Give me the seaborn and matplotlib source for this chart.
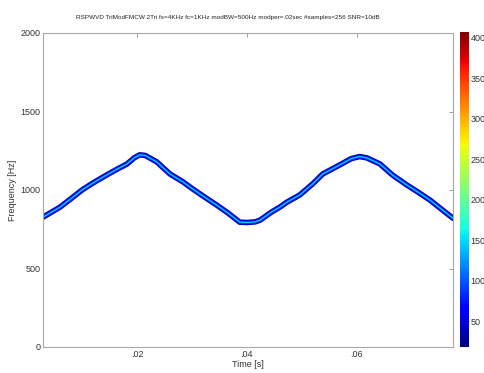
import numpy as np
import pandas as pd
import matplotlib
matplotlib.use("Agg")
import matplotlib.pyplot as plt
import seaborn as sns

# ridge of the time-frequency distribution
time_s = [0.0029, 0.0045, 0.0060, 0.0080, 0.0100, 0.0120, 0.0145, 0.0165, 0.0182,
          0.0195, 0.0205, 0.0215, 0.0236, 0.0260, 0.0284, 0.0300, 0.0315, 0.0345,
          0.0365, 0.0387, 0.0400, 0.0415, 0.0424, 0.0445, 0.0460, 0.0473, 0.0496,
          0.0520, 0.0538, 0.0569, 0.0590, 0.0605, 0.0618, 0.0642, 0.0665, 0.0691,
          0.0712, 0.0733, 0.0755, 0.0775]
freq_hz = [827, 860, 891, 945, 1000, 1045, 1096, 1135, 1166,
           1205, 1224, 1220, 1179, 1102, 1051, 1010, 974, 904,
           855, 795, 793, 797, 808, 860, 891, 923, 968,
           1040, 1102, 1160, 1200, 1213, 1205, 1166, 1095, 1032,
           985, 936, 875, 820]

# intensity levels of the ridge layers (edge, body, core)
edge_level = 35
body_level = 80
core_level = 150

cbar_min, cbar_max = 18, 407
cbar_ticks = [50, 100, 150, 200, 250, 300, 350, 400]
x_ticks = [0.02, 0.04, 0.06]
x_ticklabels = ['.02', '.04', '.06']
y_ticks = [0, 500, 1000, 1500, 2000]

df = pd.DataFrame({'t': time_s, 'f': freq_hz})

sns.set_style('white')
plt.rcParams['font.family'] = ['Liberation Sans Narrow', 'Liberation Sans', 'DejaVu Sans']
plt.rcParams['font.size'] = 6.5

W, H = 485, 373
fig = plt.figure(figsize=(W / 100, H / 100), dpi=100)
ax = fig.add_axes([43 / W, 1 - 347 / H, 410 / W, 314 / H])

cmap = plt.get_cmap('jet')
norm = matplotlib.colors.Normalize(cbar_min, cbar_max)

# thick band then thin core, like the smeared ridge
sns.lineplot(data=df, x='t', y='f', ax=ax, color=cmap(norm(edge_level)), linewidth=4.0,
             sort=False, solid_capstyle='round')
sns.lineplot(data=df, x='t', y='f', ax=ax, color=cmap(norm(body_level)), linewidth=2.4,
             sort=False, solid_capstyle='round')
sns.lineplot(data=df, x='t', y='f', ax=ax, color=cmap(norm(core_level)), linewidth=0.9,
             sort=False)

ax.set_xlim(0.0029, 0.0775)
ax.set_ylim(0, 2000)
ax.set_xticks(x_ticks)
ax.set_xticklabels(x_ticklabels)
ax.set_yticks(y_ticks)
ax.tick_params(direction='in', length=3, width=0.6, color='#909090', labelcolor='#333333',
               top=True, right=True, pad=2)
for s in ax.spines.values():
    s.set_color('#a8a8a8')
    s.set_linewidth(0.8)
ax.set_xlabel('Time [s]', labelpad=1, color='#333333')
ax.set_ylabel('Frequency [Hz]', labelpad=2, color='#333333')
ax.set_title('RSPWVD TriModFMCW 2Tri fs=4KHz fc=1KHz modBW=500Hz modper=.02sec #samples=256 SNR=10dB',
             fontsize=4.6, pad=10, color='#222222', x=0.451)

cax = fig.add_axes([460 / W, 1 - 347 / H, 9 / W, 315 / H])
sm = matplotlib.cm.ScalarMappable(norm=norm, cmap=cmap)
cb = fig.colorbar(sm, cax=cax, ticks=cbar_ticks)
cb.outline.set_visible(False)
cax.tick_params(direction='in', length=2, width=0.5, color='#909090', labelcolor='#333333', pad=1)

fig.savefig('out.png', dpi=100)
